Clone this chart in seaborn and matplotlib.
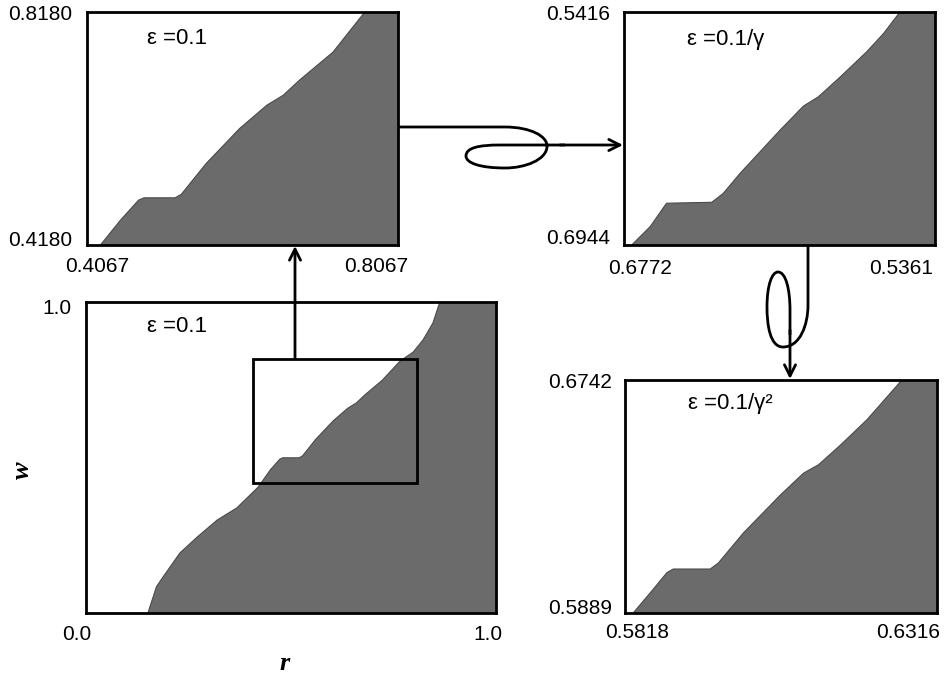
import numpy as np
import pandas as pd
import matplotlib
matplotlib.use("Agg")
import matplotlib.pyplot as plt
import seaborn as sns
from matplotlib.path import Path
from matplotlib.patches import PathPatch, Rectangle, FancyArrowPatch
import matplotlib.transforms as mtransforms

# ---------------- data ----------------
# main panel boundary (r, w)
main_r = [0.151, 0.172, 0.188, 0.229, 0.271, 0.320, 0.368, 0.420, 0.450, 0.473, 0.480,
          0.520, 0.528, 0.560, 0.603, 0.638, 0.659, 0.680, 0.723, 0.766, 0.798, 0.822,
          0.846, 0.863]
main_w = [0.000, 0.085, 0.116, 0.193, 0.244, 0.299, 0.338, 0.405, 0.461, 0.495, 0.499,
          0.499, 0.505, 0.558, 0.618, 0.658, 0.675, 0.701, 0.749, 0.810, 0.839, 0.878,
          0.932, 1.000]
main_xlim = (0.0, 1.0)
main_ylim = (0.0, 1.0)

# zoom 1 (eps = 0.1)
z1_r = [0.424, 0.450, 0.473, 0.480, 0.520, 0.528, 0.560, 0.603, 0.638, 0.659, 0.680, 0.723, 0.764]
z1_w = [0.418, 0.461, 0.495, 0.499, 0.499, 0.505, 0.558, 0.618, 0.658, 0.675, 0.701, 0.749, 0.818]
z1_xlim = (0.4067, 0.8067)
z1_ylim = (0.4180, 0.8180)

# zoom 2 (eps = 0.1/gamma), reversed axes
z2_r = [0.6737, 0.6653, 0.6579, 0.6374, 0.6322, 0.6246, 0.6155, 0.6064, 0.5958, 0.5890,
        0.5791, 0.5671, 0.5595, 0.5520]
z2_w = [0.6944, 0.6823, 0.6670, 0.6664, 0.6606, 0.6475, 0.6333, 0.6191, 0.6033, 0.5972,
        0.5842, 0.5677, 0.5558, 0.5416]
z2_xlim = (0.6772, 0.5361)
z2_ylim = (0.6944, 0.5416)

# zoom 3 (eps = 0.1/gamma^2)
z3_r = [0.5831, 0.5858, 0.5885, 0.5895, 0.5954, 0.5967, 0.6007, 0.6066, 0.6103, 0.6127,
        0.6162, 0.6204, 0.6260]
z3_w = [0.5889, 0.5962, 0.6037, 0.6050, 0.6050, 0.6072, 0.6182, 0.6321, 0.6401, 0.6432,
        0.6504, 0.6596, 0.6742]
z3_xlim = (0.5818, 0.6316)
z3_ylim = (0.5889, 0.6742)

eps_labels = ["ε =0.1", "ε =0.1/γ", "ε =0.1", "ε =0.1/γ²"]
main_xticklabels = ["0.0", "1.0"]
main_yticklabels = ["1.0"]
z1_xticklabels = ["0.4067", "0.8067"]
z1_yticklabels = ["0.8180", "0.4180"]
z2_xticklabels = ["0.6772", "0.5361"]
z2_yticklabels = ["0.5416", "0.6944"]
z3_xticklabels = ["0.5818", "0.6316"]
z3_yticklabels = ["0.6742", "0.5889"]

# ---------------- style ----------------
sns.set_theme(style="white")
plt.rcParams["font.family"] = ["Liberation Sans", "DejaVu Sans"]
plt.rcParams["text.color"] = "black"
GREY = "#6b6b6b"
FS = 15
FS_EPS = 16

W, H = 947, 673
fig = plt.figure(figsize=(W / 100, H / 100), dpi=100)
fig.patch.set_facecolor("white")


def px_axes(l, t, r, b):
    return fig.add_axes([l / W, 1 - b / H, (r - l) / W, (b - t) / H])


def shifted(ax, dx, dy):
    return mtransforms.offset_copy(ax.transAxes, fig=fig, x=dx, y=dy, units="dots")


def draw_panel(ax, xs, ys, xlim, ylim, eps, eps_off, xlabs, xoffs, xdy,
               ylabs, ydx, ydys):
    ax.set_xlim(*xlim)
    ax.set_ylim(*ylim)
    px = list(xs) + [xlim[1], xlim[1]]
    py = list(ys) + [ylim[1], ylim[0]]
    ax.fill(px, py, color=GREY, lw=0, zorder=1)
    df = pd.DataFrame({"x": xs, "y": ys})
    sns.lineplot(data=df, x="x", y="y", ax=ax, color="#4a4a4a", lw=0.8,
                 sort=False, estimator=None, zorder=2)
    ax.set_xticks([])
    ax.set_yticks([])
    ax.set_xlabel("")
    ax.set_ylabel("")
    for s in ax.spines.values():
        s.set_visible(True)
        s.set_linewidth(2.0)
        s.set_color("black")
        s.set_zorder(5)
    ax.text(0, 1, eps, fontsize=FS_EPS, ha="left", va="center", color="black",
            transform=shifted(ax, eps_off[0], -eps_off[1]))
    # x tick labels
    ax.text(0, 0, xlabs[0], fontsize=FS, ha="left", va="center", color="black",
            transform=shifted(ax, xoffs[0], -xdy))
    ax.text(1, 0, xlabs[1], fontsize=FS, ha="right", va="center", color="black",
            transform=shifted(ax, xoffs[1], -xdy))
    # y tick labels
    ax.text(0, 1, ylabs[0], fontsize=FS, ha="right", va="center", color="black",
            transform=shifted(ax, ydx, -ydys[0]))
    if len(ylabs) > 1:
        ax.text(0, 0, ylabs[1], fontsize=FS, ha="right", va="center", color="black",
                transform=shifted(ax, ydx, ydys[1]))


axA = px_axes(87, 12, 398, 245)
axB = px_axes(624, 12, 935, 245)
axC = px_axes(86, 302, 496, 613)
axD = px_axes(625, 380, 937, 613)

draw_panel(axA, z1_r, z1_w, z1_xlim, z1_ylim, eps_labels[0], (60, 26),
           z1_xticklabels, (-22, 10), 21, z1_yticklabels, -15, (2, 5))
draw_panel(axB, z2_r, z2_w, z2_xlim, z2_ylim, eps_labels[1], (63, 28),
           z2_xticklabels, (-16, -2), 23, z2_yticklabels, -14, (2, 6))
draw_panel(axC, main_r, main_w, main_xlim, main_ylim, eps_labels[2], (61, 25),
           main_xticklabels, (-24, 6), 22, main_yticklabels, -14, (6, 0))
draw_panel(axD, z3_r, z3_w, z3_xlim, z3_ylim, eps_labels[3], (63, 24),
           z3_xticklabels, (-20, 3), 20, z3_yticklabels, -13, (2, 5))

# zoom rectangle in main panel
axC.add_patch(Rectangle((z1_xlim[0], z1_ylim[0]), z1_xlim[1] - z1_xlim[0],
                        z1_ylim[1] - z1_ylim[0], fill=False, lw=2.0,
                        edgecolor="black", zorder=6))

# axis labels
fig.text(285 / W, 1 - 663 / H, "r", fontsize=19, fontweight="bold", fontstyle="italic",
         family=["Liberation Serif", "DejaVu Serif"], ha="center", va="center",
         color="black")
fig.text(22 / W, 1 - 470 / H, "w", fontsize=19, fontweight="bold", fontstyle="italic",
         family=["Liberation Serif", "DejaVu Serif"], ha="center", va="center",
         rotation=90, color="black")

# ---------------- connectors (figure pixel coordinates) ----------------
pix = mtransforms.Affine2D().scale(1 / W, -1 / H).translate(0, 1) + fig.transFigure
M, L, C = Path.MOVETO, Path.LINETO, Path.CURVE4

v1 = [(398, 127), (505, 127),
      (530, 127), (548, 136), (547, 147),
      (546, 160), (525, 168), (505, 168),
      (480, 168), (466, 163), (466, 156),
      (466, 148), (478, 145), (500, 145),
      (565, 145)]
c1 = [M, L, C, C, C, C, C, C, C, C, C, C, C, C, L]
fig.add_artist(PathPatch(Path(v1, c1), fill=False, lw=2.0, edgecolor="black",
                         transform=pix))
fig.add_artist(FancyArrowPatch((560, 145), (623, 145), arrowstyle="->",
                               mutation_scale=20, lw=2.0, color="black",
                               shrinkA=0, shrinkB=0, transform=pix))

v2 = [(808, 245), (808, 305),
      (808, 325), (800, 347), (783, 347),
      (770, 347), (767, 325), (767, 307),
      (767, 285), (772, 272), (778, 272),
      (786, 272), (790, 290), (790, 310),
      (790, 335)]
c2 = [M, L, C, C, C, C, C, C, C, C, C, C, C, C, L]
fig.add_artist(PathPatch(Path(v2, c2), fill=False, lw=2.0, edgecolor="black",
                         transform=pix))
fig.add_artist(FancyArrowPatch((790, 330), (790, 379), arrowstyle="->",
                               mutation_scale=20, lw=2.0, color="black",
                               shrinkA=0, shrinkB=0, transform=pix))

fig.add_artist(FancyArrowPatch((295, 358), (295, 246), arrowstyle="->",
                               mutation_scale=20, lw=2.0, color="black",
                               shrinkA=0, shrinkB=0, transform=pix))

fig.savefig("out.png", dpi=100, facecolor="white")
